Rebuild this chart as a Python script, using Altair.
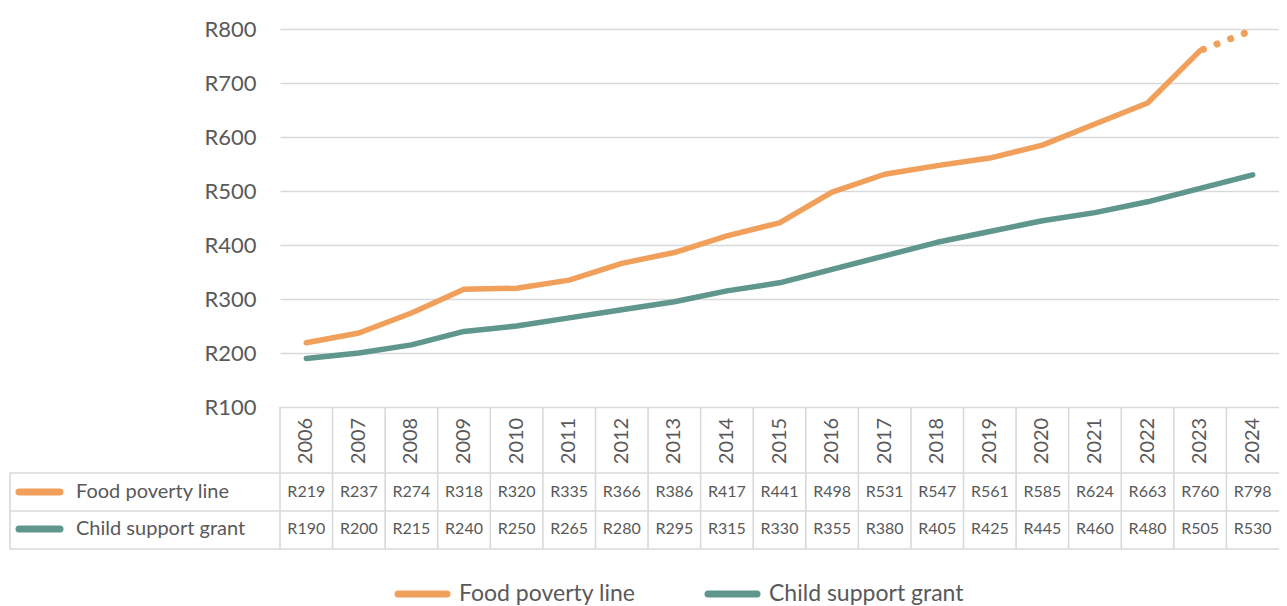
import altair as alt
import pandas as pd

# ---- data ----
years = [str(y) for y in range(2006, 2025)]
food_poverty_line = [219, 237, 274, 318, 320, 335, 366, 386, 417, 441, 498, 531, 547, 561, 585, 624, 663, 760, 798]
child_support_grant = [190, 200, 215, 240, 250, 265, 280, 295, 315, 330, 355, 380, 405, 425, 445, 460, 480, 505, 530]
series_names = ["Food poverty line", "Child support grant"]
series_colors = ["#F0A05A", "#5F968E"]
y_ticks = [100, 200, 300, 400, 500, 600, 700, 800]
projected_from = "2023"   # food poverty line dotted from here on

FONT = "Lato"
TXT = "#595959"
GRID = "#d9d9d9"

W = 999   # 19 columns
H = 378

wide = pd.DataFrame({"year": years, "fpl": food_poverty_line, "csg": child_support_grant})
long = pd.concat([
    pd.DataFrame({"year": years, "value": food_poverty_line, "series": series_names[0]}),
    pd.DataFrame({"year": years, "value": child_support_grant, "series": series_names[1]}),
])
solid = long[~((long.series == series_names[0]) & (long.year > projected_from))]
dotted = long[(long.series == series_names[0]) & (long.year >= projected_from)]

xscale = alt.Scale(type="band", paddingInner=0, paddingOuter=0)
xenc = alt.X("year:O", scale=xscale, axis=None)
color = alt.Color("series:N", scale=alt.Scale(domain=series_names, range=series_colors), legend=None)
yenc = alt.Y("value:Q", scale=alt.Scale(domain=[100, 800], nice=False, zero=False),
             axis=alt.Axis(values=y_ticks, labelExpr="'R' + datum.value", title=None, domain=False,
                           ticks=False, grid=True, gridColor=GRID, gridWidth=1.4,
                           labelFontSize=22, labelColor=TXT, labelFont=FONT, labelPadding=24))

lines = alt.Chart(solid).mark_line(strokeWidth=5.5, strokeCap="round", strokeJoin="round").encode(
    x=xenc, y=yenc, color=color)
dots = alt.Chart(dotted).mark_line(strokeWidth=7, strokeCap="round", strokeDash=[0.1, 14.5],
                                   strokeDashOffset=-3.5).encode(x=xenc, y="value:Q", color=color)

BORDER = dict(color=GRID, strokeWidth=1.6)

# table: header years and values
year_txt = alt.Chart(wide).mark_text(angle=270, fontSize=20, font=FONT, color=TXT, align="center",
                                     baseline="middle").encode(x=xenc, y=alt.value(412), text="year:N")
val1 = alt.Chart(wide).mark_text(fontSize=16, font=FONT, color=TXT, baseline="middle").transform_calculate(
    lbl="'R' + datum.fpl").encode(x=xenc, y=alt.value(463), text="lbl:N")
val2 = alt.Chart(wide).mark_text(fontSize=16, font=FONT, color=TXT, baseline="middle").transform_calculate(
    lbl="'R' + datum.csg").encode(x=xenc, y=alt.value(500), text="lbl:N")
vlines = alt.Chart(wide).mark_rule(**BORDER).encode(
    x=alt.X("year:O", scale=xscale, axis=None, bandPosition=0),
    y=alt.value(H), y2=alt.value(520))

one = pd.DataFrame({"k": [0]})
hl = [alt.Chart(one).mark_rule(**BORDER).encode(x=alt.value(-270), x2=alt.value(W), y=alt.value(yy))
      for yy in (444, 482, 520)]
left_v = alt.Chart(one).mark_rule(**BORDER).encode(x=alt.value(-270), y=alt.value(444), y2=alt.value(520))

# legend inside table
tleg = []
for name, col, yy in zip(series_names, series_colors, (463, 500)):
    d = pd.DataFrame({"name": [name]})
    tleg.append(alt.Chart(d).mark_rule(color=col, strokeWidth=7, strokeCap="round").encode(
        x=alt.value(-261), x2=alt.value(-220), y=alt.value(yy)))
    tleg.append(alt.Chart(d).mark_text(align="left", baseline="middle", fontSize=20, font=FONT, color=TXT).encode(
        x=alt.value(-204), y=alt.value(yy), text="name:N"))

# bottom legend
bleg = []
for name, col, x0 in zip(series_names, series_colors, (115, 425)):
    d = pd.DataFrame({"name": [name]})
    bleg.append(alt.Chart(d).mark_rule(color=col, strokeWidth=7, strokeCap="round").encode(
        x=alt.value(x0 + 3), x2=alt.value(x0 + 52), y=alt.value(565)))
    bleg.append(alt.Chart(d).mark_text(align="left", baseline="middle", fontSize=23, font=FONT, color=TXT).encode(
        x=alt.value(x0 + 64), y=alt.value(565), text="name:N"))

chart = alt.layer(vlines, *hl, left_v, lines, dots, year_txt, val1, val2, *tleg, *bleg).properties(
    width=W, height=H,
    autosize=alt.AutoSizeParams(type="none"),
    padding={"left": 272, "top": 21, "right": 0, "bottom": 199},
).configure_view(stroke=None)

chart.save("out.html", embed_options={"renderer": "svg", "actions": False})
